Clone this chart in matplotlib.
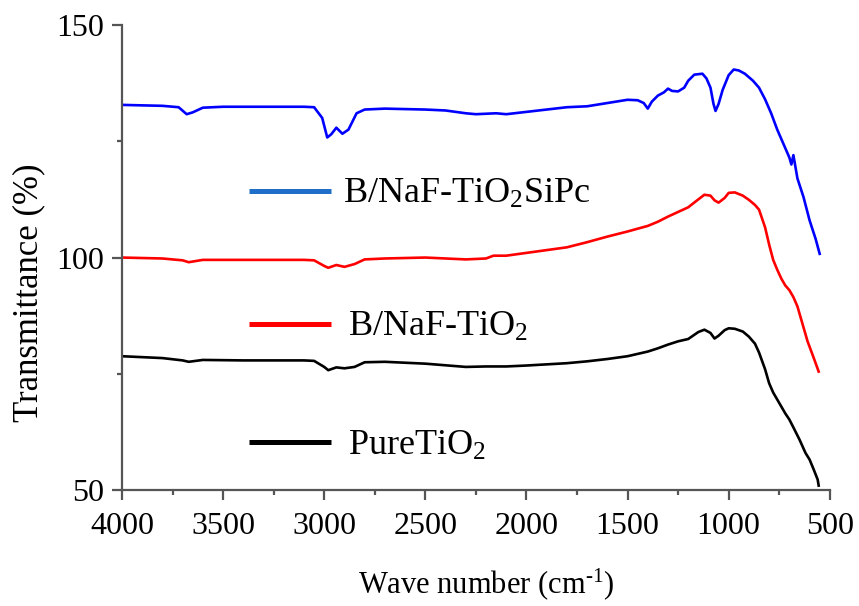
import matplotlib
matplotlib.use("Agg")
import matplotlib.pyplot as plt
from matplotlib.ticker import MultipleLocator
from matplotlib.lines import Line2D

plt.rcParams['font.family'] = ['Liberation Serif', 'DejaVu Serif']
plt.rcParams['mathtext.fontset'] = 'custom'
plt.rcParams['mathtext.rm'] = 'Liberation Serif'
plt.rcParams['mathtext.it'] = 'Liberation Serif:italic'

# ---- data ----
wn_sipc = [4000, 3900, 3800, 3720, 3680, 3650, 3600, 3500, 3300, 3100, 3050, 3010, 2985,
           2965, 2940, 2910, 2880, 2840, 2800, 2700, 2500, 2400, 2300, 2250, 2150, 2100,
           2000, 1900, 1800, 1700, 1600, 1500, 1450, 1420, 1400, 1380, 1350, 1320, 1300,
           1280, 1250, 1220, 1200, 1170, 1130, 1110, 1090, 1075, 1065, 1050, 1030, 1000,
           975, 950, 920, 880, 850, 820, 790, 760, 730, 700, 690, 680, 660, 630, 600, 570, 550]
t_sipc = [132.8, 132.7, 132.6, 132.3, 130.8, 131.2, 132.2, 132.4, 132.4, 132.4, 132.3, 130.0, 125.8,
          126.5, 127.9, 126.6, 127.5, 131.0, 131.8, 132.0, 131.8, 131.6, 131.0, 130.8, 131.0, 130.8,
          131.3, 131.8, 132.3, 132.5, 133.2, 133.9, 133.8, 133.2, 132.0, 133.5, 134.8, 135.5, 136.3,
          135.8, 135.7, 136.5, 138.0, 139.3, 139.5, 138.5, 136.5, 133.0, 131.5, 133.0, 136.0, 139.2,
          140.4, 140.2, 139.5, 138.0, 136.5, 134.0, 131.0, 127.5, 124.5, 121.5, 120.0, 122.0, 117.0,
          113.0, 108.0, 104.0, 100.8]

wn_naf = [4000, 3800, 3700, 3670, 3600, 3400, 3100, 3050, 3000, 2980, 2940, 2900, 2850, 2800,
          2700, 2500, 2400, 2300, 2200, 2163, 2100, 2000, 1800, 1700, 1600, 1500, 1450, 1400,
          1350, 1300, 1250, 1200, 1150, 1120, 1090, 1070, 1050, 1020, 1000, 970, 930, 900, 870,
          850, 820, 800, 780, 760, 740, 720, 700, 680, 660, 640, 610, 580, 555]
t_naf = [100.0, 99.8, 99.4, 99.0, 99.5, 99.5, 99.5, 99.4, 98.2, 97.8, 98.4, 98.0, 98.6, 99.6,
         99.8, 100.0, 99.8, 99.6, 99.8, 100.4, 100.4, 101.0, 102.2, 103.3, 104.5, 105.6, 106.2, 106.8,
         107.7, 108.8, 109.8, 110.8, 112.5, 113.5, 113.3, 112.3, 111.8, 112.8, 113.9, 114.0, 113.3,
         112.4, 111.3, 110.3, 106.5, 102.8, 99.5, 97.4, 95.5, 94.0, 93.0, 91.5, 89.5, 86.5, 82.0,
         78.5, 75.5]

wn_pure = [4000, 3800, 3700, 3670, 3600, 3400, 3100, 3050, 3000, 2980, 2940, 2900, 2850, 2800,
           2700, 2500, 2300, 2200, 2100, 2000, 1800, 1700, 1600, 1500, 1450, 1400, 1350, 1300,
           1250, 1200, 1150, 1120, 1090, 1070, 1050, 1020, 1000, 970, 930, 900, 870, 850, 820,
           800, 780, 760, 740, 720, 700, 680, 650, 620, 600, 580, 560, 555]
t_pure = [78.8, 78.4, 77.9, 77.6, 78.0, 77.9, 77.9, 77.8, 76.5, 75.8, 76.4, 76.2, 76.5, 77.5,
          77.6, 77.2, 76.5, 76.6, 76.6, 76.8, 77.3, 77.7, 78.2, 78.8, 79.3, 79.8, 80.5, 81.3,
          82.0, 82.5, 84.0, 84.5, 83.8, 82.6, 83.2, 84.4, 84.8, 84.7, 84.1, 83.0, 81.5, 79.6,
          76.0, 73.0, 71.0, 69.5, 68.0, 66.5, 65.2, 63.5, 60.9, 58.0, 56.6, 54.5, 52.3, 51.0]

labels = ['B/NaF-TiO$\\mathregular{_2}$SiPc', 'B/NaF-TiO$\\mathregular{_2}$', 'PureTiO$\\mathregular{_2}$']
line_colors = ['#0000FF', '#FF0000', '#000000']
key_colors = ['#1F6FC8', '#FF0000', '#000000']

x_ticks = [4000, 3500, 3000, 2500, 2000, 1500, 1000, 500]
y_ticks = [50, 100, 150]

# ---- figure ----
fig = plt.figure(figsize=(8.59, 6.06), dpi=100)
ax = fig.add_axes([0.142, 0.191, 0.824, 0.768])

for wn, t, c in zip([wn_sipc, wn_naf, wn_pure], [t_sipc, t_naf, t_pure], line_colors):
    ax.plot(wn, t, color=c, lw=1.9)

ax.set_xlim(4000, 500)
ax.set_ylim(50, 150)
ax.set_xticks(x_ticks)
ax.set_yticks(y_ticks)
ax.xaxis.set_minor_locator(MultipleLocator(250))
ax.yaxis.set_minor_locator(MultipleLocator(25))

for s in ['top', 'right']:
    ax.spines[s].set_visible(False)
for s in ['left', 'bottom']:
    ax.spines[s].set_color('#555555')
    ax.spines[s].set_linewidth(1.6)

ax.tick_params(axis='both', which='major', direction='out', length=7, width=1.6,
               color='#555555', labelsize=23, pad=6)
ax.tick_params(axis='both', which='minor', direction='out', length=3.5, width=1.6,
               color='#555555')
ax.tick_params(axis='x', which='major', pad=9)

ax.set_xlabel('Wave number (cm$^{\\mathregular{\\text{-}1}}$)', fontsize=22)
ax.set_ylabel('Transmittance (%)', fontsize=25)
ax.xaxis.set_label_coords(0.515, -0.163)
ax.yaxis.set_label_coords(-0.108, 0.425)

# legend keys placed inside the plot
key_y = [0.643, 0.357, 0.103]
text_x = [0.312, 0.319, 0.319]
for ky, tx, kc, lab in zip(key_y, text_x, key_colors, labels):
    ax.add_line(Line2D([0.179, 0.295], [ky, ky], transform=ax.transAxes,
                       color=kc, lw=3.6, solid_capstyle='butt'))
    ax.text(tx, ky - 0.008, lab, transform=ax.transAxes, fontsize=26,
            va='center', ha='left')

fig.savefig('out.png', dpi=100)
